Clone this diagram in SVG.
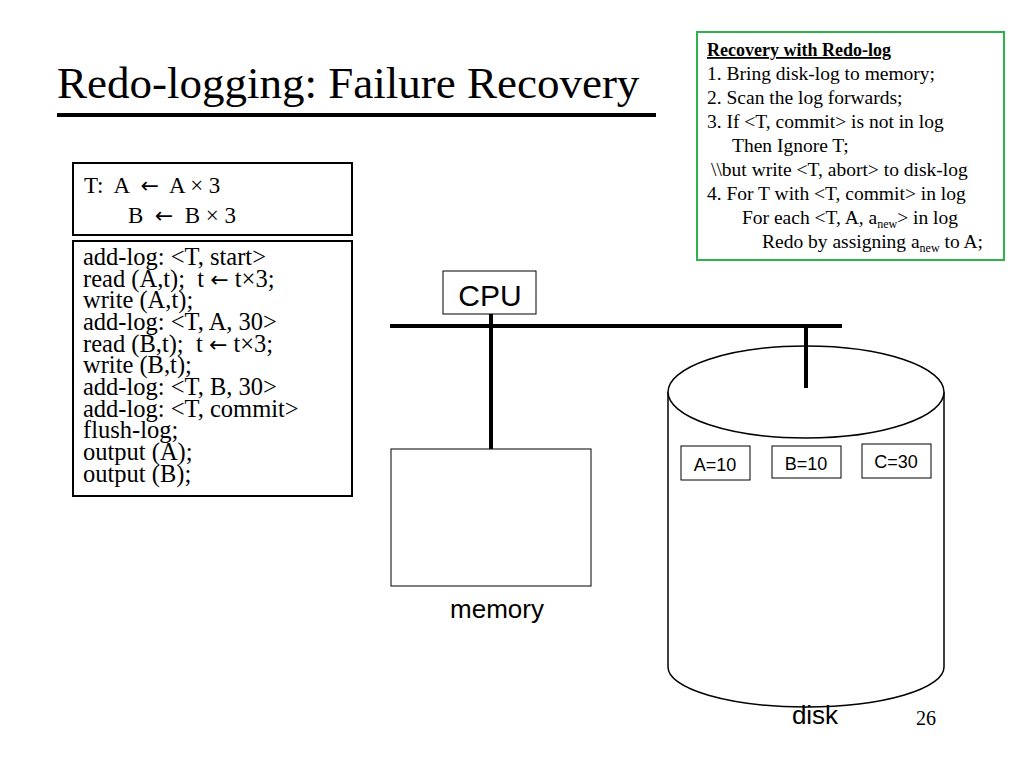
<svg xmlns="http://www.w3.org/2000/svg" width="1024" height="768" viewBox="0 0 1024 768">
<style>
.s{font-family:"Liberation Serif",serif;fill:#000;white-space:pre}
.a{font-family:"Liberation Sans",Arial,sans-serif;fill:#000}
.ar{font-family:"DejaVu Sans",sans-serif}
.b{fill:#fff;stroke:#000;stroke-width:2}
.t{fill:#fff;stroke:#000;stroke-width:1}
</style>
<rect width="1024" height="768" fill="#fff"/>
<text class="s" x="57" y="98" font-size="45">Redo-logging: Failure Recovery</text>
<line x1="57" y1="115" x2="656" y2="115" stroke="#000" stroke-width="4"/>
<g id="recovery">
<rect x="697" y="32" width="307" height="228" fill="#fff" stroke="#2db34a" stroke-width="2"/>
<g class="s" font-size="19.5">
<text x="707" y="56" font-weight="bold" font-size="18" text-decoration="underline">Recovery with Redo-log</text>
<text x="707" y="80">1. Bring disk-log to memory;</text>
<text x="707" y="104">2. Scan the log forwards;</text>
<text x="707" y="128">3. If &lt;T, commit&gt; is not in log</text>
<text x="732" y="152">Then Ignore T;</text>
<text x="711" y="176">\\but write &lt;T, abort&gt; to disk-log</text>
<text x="707" y="200">4. For T with &lt;T, commit&gt; in log</text>
<text x="742" y="224">For each &lt;T, A, a<tspan font-size="12" dy="4">new</tspan><tspan dy="-4">&gt; in log</tspan></text>
<text x="762" y="248">Redo by assigning a<tspan font-size="12" dy="4">new</tspan><tspan dy="-4"> to A;</tspan></text>
</g>
</g>
<g id="transaction">
<rect class="b" x="73" y="163" width="279" height="72"/>
<text class="s" x="84" y="193" font-size="23" xml:space="preserve">T:  A  <tspan class="ar" font-size="22">←</tspan>  A × 3</text>
<text class="s" x="128" y="223" font-size="23" xml:space="preserve">B  <tspan class="ar" font-size="22">←</tspan>  B × 3</text>
</g>
<g id="steps">
<rect class="b" x="73" y="241" width="279" height="255"/>
<g class="s" font-size="24.5">
<text x="83" y="265">add-log: &lt;T, start&gt;</text>
<text x="83" y="287" xml:space="preserve">read (A,t);  t <tspan class="ar" font-size="22">←</tspan> t×3;</text>
<text x="83" y="308">write (A,t);</text>
<text x="83" y="330">add-log: &lt;T, A, 30&gt;</text>
<text x="83" y="352" xml:space="preserve">read (B,t);  t <tspan class="ar" font-size="22">←</tspan> t×3;</text>
<text x="83" y="373">write (B,t);</text>
<text x="83" y="395">add-log: &lt;T, B, 30&gt;</text>
<text x="83" y="417">add-log: &lt;T, commit&gt;</text>
<text x="83" y="438">flush-log;</text>
<text x="83" y="460">output (A);</text>
<text x="83" y="482">output (B);</text>
</g>
</g>
<g id="connectors" stroke="#000" stroke-width="4">
<line x1="390" y1="326" x2="842" y2="326"/>
<line x1="491" y1="314" x2="491" y2="449"/>
<line x1="806" y1="326" x2="806" y2="388"/>
</g>
<g id="cpu">
<rect class="t" x="443" y="271" width="93" height="43"/>
<text class="a" x="490" y="306" font-size="30" text-anchor="middle">CPU</text>
</g>
<g id="memory">
<rect class="t" x="391" y="449" width="200" height="137"/>
<text class="a" x="497" y="618" font-size="26" text-anchor="middle">memory</text>
</g>
<g id="disk">
<path d="M668,392 V667 A138,40 0 0 0 944,667 V392" fill="#fff" stroke="#000" stroke-width="1.5"/>
<ellipse cx="806" cy="392" rx="138" ry="46" fill="#fff" stroke="#000" stroke-width="1.5"/>
<line x1="806" y1="346" x2="806" y2="388" stroke="#000" stroke-width="4"/>
<text class="a" x="815" y="724" font-size="26" text-anchor="middle">disk</text>
</g>
<g id="a10"><rect class="t" x="681" y="446" width="69" height="34"/><text class="a" x="715" y="471" font-size="18" text-anchor="middle">A=10</text></g>
<g id="b10"><rect class="t" x="772" y="446" width="69" height="32"/><text class="a" x="806" y="470" font-size="18" text-anchor="middle">B=10</text></g>
<g id="c30"><rect class="t" x="862" y="444" width="69" height="34"/><text class="a" x="896" y="468" font-size="18" text-anchor="middle">C=30</text></g>
<text class="s" x="926" y="725" font-size="20" text-anchor="middle">26</text>
</svg>
